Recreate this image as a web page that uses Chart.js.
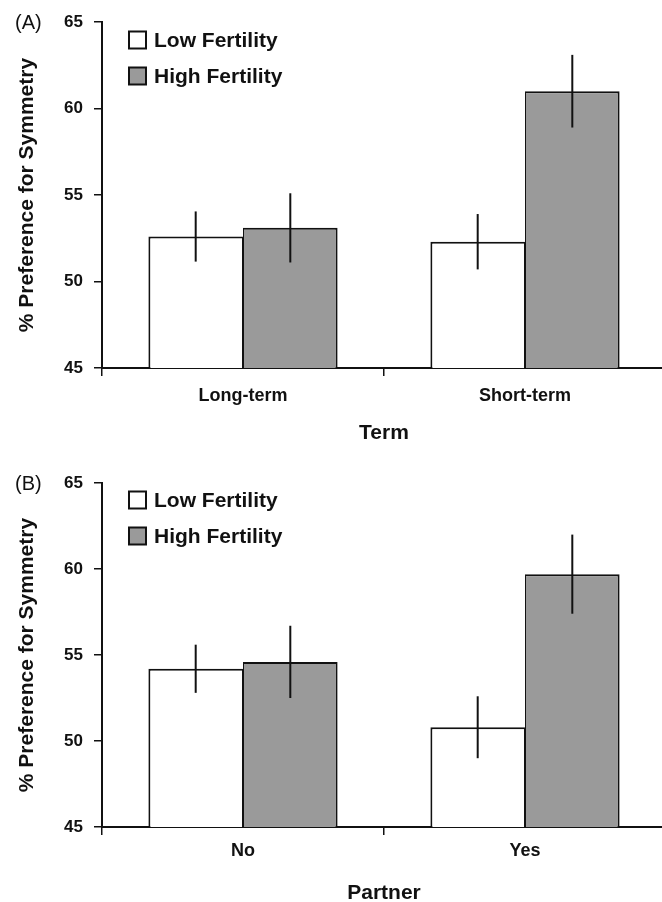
<!DOCTYPE html>
<html>
<head>
<meta charset="utf-8">
<script src="https://cdn.jsdelivr.net/npm/chart.js@4.4.0/dist/chart.umd.min.js"></script>
<style>
  html, body { margin: 0; padding: 0; background: #fff; overflow: hidden; }
  canvas { position: absolute; left: 0; }
  #chartA { top: 0; }
  #chartB { top: 450px; }
</style>
</head>
<body>
<canvas id="chartA" width="666" height="450"></canvas>
<canvas id="chartB" width="666" height="460"></canvas>
<script>
const seriesNames = ['Low Fertility', 'High Fertility'];
const yTicks = [45, 50, 55, 60, 65];
const yTitle = '% Preference for Symmetry';

// (A) Term
const termLabels = ['Long-term', 'Short-term'];
const termLow = [52.6, 52.3];
const termHigh = [53.1, 61.0];
const termLowErr = [1.45, 1.6];
const termHighErr = [2.0, 2.1];

// (B) Partner
const partnerLabels = ['No', 'Yes'];
const partnerLow = [54.2, 50.8];
const partnerHigh = [54.6, 59.7];
const partnerLowErr = [1.4, 1.8];
const partnerHighErr = [2.1, 2.3];

const FONT = '"Liberation Sans", Arial, sans-serif';
const INK = '#111';

// vertical error bars, no caps
const errorBars = {
    id: 'errorBars',
    afterDatasetsDraw(chart) {
        const ctx = chart.ctx;
        const y = chart.scales.y;
        ctx.save();
        ctx.strokeStyle = INK;
        ctx.lineWidth = 2;
        chart.data.datasets.forEach((ds, i) => {
            chart.getDatasetMeta(i).data.forEach((bar, j) => {
                const v = ds.data[j], e = ds.errors[j];
                ctx.beginPath();
                ctx.moveTo(bar.x, y.getPixelForValue(v + e));
                ctx.lineTo(bar.x, y.getPixelForValue(v - e));
                ctx.stroke();
            });
        });
        ctx.restore();
    }
};

// legend drawn inside the plot, top-left
const boxLegend = {
    id: 'boxLegend',
    afterDraw(chart, args, opts) {
        const ctx = chart.ctx;
        const area = chart.chartArea;
        ctx.save();
        ctx.font = 'bold 21px ' + FONT;
        ctx.textBaseline = 'middle';
        chart.data.datasets.forEach((ds, i) => {
            const cy = area.top + opts.top + i * 36;
            const bx = area.left + 27;
            ctx.fillStyle = ds.backgroundColor;
            ctx.fillRect(bx, cy - 8.5, 17, 17);
            ctx.strokeStyle = INK;
            ctx.lineWidth = 2;
            ctx.strokeRect(bx, cy - 8.5, 17, 17);
            ctx.fillStyle = INK;
            ctx.fillText(ds.label, bx + opts.gap, cy + 1);
        });
        ctx.restore();
    }
};

const panelTag = {
    id: 'panelTag',
    afterDraw(chart, args, opts) {
        const ctx = chart.ctx;
        ctx.save();
        ctx.font = '20px ' + FONT;
        ctx.fillStyle = INK;
        ctx.textBaseline = 'middle';
        ctx.fillText(opts.text, 15, chart.chartArea.top + 1);
        ctx.restore();
    }
};

function makeChart(id, labels, low, high, lowErr, highErr, xTitle, tag, cfg) {
    return new Chart(document.getElementById(id), {
        type: 'bar',
        data: {
            labels: labels,
            datasets: [
                { label: seriesNames[0], data: low, errors: lowErr, backgroundColor: '#ffffff', borderColor: INK,
                  borderWidth: { top: 2, left: 2, right: 1, bottom: 0 } },
                { label: seriesNames[1], data: high, errors: highErr, backgroundColor: '#9a9a9a', borderColor: INK,
                  borderWidth: { top: 2, left: 1, right: 2, bottom: 0 } }
            ]
        },
        options: {
            responsive: false,
            animation: false,
            devicePixelRatio: 1,
            categoryPercentage: 0.671,
            barPercentage: 1,
            layout: { padding: { top: cfg.top, left: 0, right: 0, bottom: 0 } },
            plugins: {
                legend: { display: false },
                tooltip: { enabled: false },
                boxLegend: { top: cfg.legendTop, gap: 25 },
                panelTag: { text: tag }
            },
            scales: {
                x: {
                    offset: true,
                    grid: { offset: true, drawOnChartArea: false, drawTicks: true, tickLength: 8, color: INK, lineWidth: 1.5 },
                    border: { color: INK, width: 2 },
                    ticks: { color: INK, padding: cfg.xPad, maxRotation: 0, font: { family: FONT, size: 18, weight: 'bold' } },
                    title: { display: true, text: xTitle, color: INK, padding: { top: 0, bottom: 4 }, font: { family: FONT, size: 21, weight: 'bold' } },
                    afterFit: s => { s.height = cfg.xHeight; }
                },
                y: {
                    min: yTicks[0],
                    max: yTicks[yTicks.length - 1],
                    afterBuildTicks: s => { s.ticks = yTicks.map(v => ({ value: v })); },
                    grid: { drawOnChartArea: false, drawTicks: true, tickLength: 8, color: INK, lineWidth: 1.5 },
                    border: { color: INK, width: 2 },
                    ticks: { color: INK, padding: 11, font: { family: FONT, size: 17, weight: 'bold' } },
                    title: { display: true, text: yTitle, color: INK, padding: { top: 15, bottom: 0 }, font: { family: FONT, size: 21, weight: 'bold' } },
                    afterFit: s => { s.width = 102; }
                }
            }
        },
        plugins: [errorBars, boxLegend, panelTag]
    });
}

makeChart('chartA', termLabels, termLow, termHigh, termLowErr, termHighErr, 'Term', '(A)',
    { top: 22, xHeight: 82, xPad: 9, legendTop: 18 });
makeChart('chartB', partnerLabels, partnerLow, partnerHigh, partnerLowErr, partnerHighErr, 'Partner', '(B)',
    { top: 33, xHeight: 83, xPad: 5, legendTop: 17 });
</script>
</body>
</html>
